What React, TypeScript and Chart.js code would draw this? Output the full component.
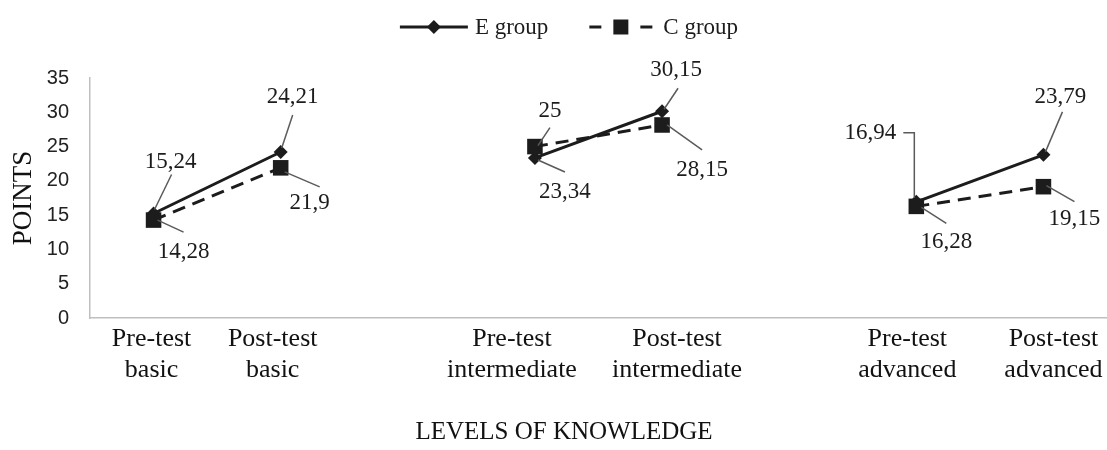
import React, { useEffect, useRef } from 'react';
import { Chart, registerables } from 'chart.js';

Chart.register(...registerables);

// ---- data ----
const categories: string[][] = [
  ['Pre-test', 'basic'],
  ['Post-test', 'basic'],
  [],
  ['Pre-test', 'intermediate'],
  ['Post-test', 'intermediate'],
  [],
  ['Pre-test', 'advanced'],
  ['Post-test', 'advanced'],
];
const eGroup: (number | null)[] = [15.24, 24.21, null, 23.34, 30.15, null, 16.94, 23.79];
const cGroup: (number | null)[] = [14.28, 21.9, null, 25, 28.15, null, 16.28, 19.15];
const seriesNames = ['E group', 'C group'];
const yMin = 0;
const yMax = 35;
const yStep = 5;
const xTitle = 'LEVELS OF KNOWLEDGE';
const yTitle = 'POINTS';

// ---- label placement (pixel offsets; layout only) ----
type LabelPos = { t: [number, number]; path: [number, number][] } | null;
const labelLayout: LabelPos[][] = [
  [
    { t: [17, -52], path: [[18, -39], [1, -4]] },
    { t: [12, -55], path: [[12, -37], [1, -4]] },
    null,
    { t: [30, 34], path: [[30, 14], [3, 2]] },
    { t: [14, -41], path: [[16, -23], [2, -2]] },
    null,
    { t: [-46, -69], path: [[-13, -69], [-2, -69], [-2, -4]] },
    { t: [17, -58], path: [[19, -43], [2, -3]] },
  ],
  [
    { t: [30, 32], path: [[30, 12], [4, 0]] },
    { t: [29, 35], path: [[39, 19], [4, 4]] },
    null,
    { t: [15, -36], path: [[15, -19], [3, -1]] },
    { t: [40, 45], path: [[40, 25], [5, 0]] },
    null,
    { t: [30, 36], path: [[30, 17], [5, 1]] },
    { t: [31, 32], path: [[31, 15], [3, -1]] },
  ],
];
const tickShift = [-2, -8, 0, -23, 15, 0, -9, 10];

const SERIF = '"Liberation Serif", "Times New Roman", serif';
const INK = '#1c1c1c';
const LEADER = '#5a5a5a';
const LEGEND_CENTER_X = 569;
const LEGEND_Y = 27;
const XTITLE_X = 564;
const XTITLE_Y = 432;
const W = 1107;
const H = 450;

const fmt = (v: number) => String(v).replace('.', ',');

function drawDiamond(ctx: CanvasRenderingContext2D, x: number, y: number, r: number) {
  ctx.beginPath();
  ctx.moveTo(x, y - r);
  ctx.lineTo(x + r, y);
  ctx.lineTo(x, y + r);
  ctx.lineTo(x - r, y);
  ctx.closePath();
  ctx.fill();
}

const annotatePlugin = {
  id: 'annotate',
  afterDatasetsDraw(chart: any) {
    const ctx: CanvasRenderingContext2D = chart.ctx;
    ctx.save();
    ctx.font = `23px ${SERIF}`;
    ctx.textAlign = 'center';
    ctx.textBaseline = 'middle';
    chart.data.datasets.forEach((ds: any, di: number) => {
      const meta = chart.getDatasetMeta(di);
      meta.data.forEach((pt: any, i: number) => {
        const v = ds.data[i];
        const L = labelLayout[di] && labelLayout[di][i];
        if (v == null || !L) return;
        ctx.strokeStyle = LEADER;
        ctx.lineWidth = 1.5;
        ctx.setLineDash([]);
        ctx.beginPath();
        L.path.forEach(([dx, dy], k) => {
          if (k === 0) ctx.moveTo(pt.x + dx, pt.y + dy);
          else ctx.lineTo(pt.x + dx, pt.y + dy);
        });
        ctx.stroke();
        ctx.fillStyle = INK;
        ctx.fillText(fmt(v), pt.x + L.t[0], pt.y + L.t[1]);
      });
    });

    // category labels (positioned via the x scale)
    const xs = chart.scales.x;
    const bottom = chart.chartArea.bottom;
    ctx.font = `26px ${SERIF}`;
    ctx.fillStyle = '#111';
    categories.forEach((lines, i) => {
      const cx = xs.getPixelForValue(i) + tickShift[i];
      lines.forEach((ln, k) => {
        ctx.fillText(ln, cx, bottom + 21 + k * 31);
      });
    });

    // x title
    ctx.font = `25px ${SERIF}`;
    ctx.fillText(xTitle, XTITLE_X, XTITLE_Y);

    // legend
    ctx.font = `23px ${SERIF}`;
    ctx.textAlign = 'left';
    const w1 = ctx.measureText(seriesNames[0]).width;
    const w2 = ctx.measureText(seriesNames[1]).width;
    const lineLen1 = 68;
    const lineLen2 = 63;
    const total = lineLen1 + 7 + w1 + 41 + lineLen2 + 11 + w2;
    let x = LEGEND_CENTER_X - total / 2;
    const y = LEGEND_Y;
    ctx.strokeStyle = INK;
    ctx.fillStyle = INK;
    ctx.lineWidth = 3;
    ctx.setLineDash([]);
    ctx.beginPath();
    ctx.moveTo(x, y);
    ctx.lineTo(x + lineLen1, y);
    ctx.stroke();
    drawDiamond(ctx, x + lineLen1 / 2, y, 7);
    x += lineLen1 + 7;
    ctx.fillText(seriesNames[0], x, y + 1);
    x += w1 + 41;
    ctx.setLineDash([12, 39]);
    ctx.beginPath();
    ctx.moveTo(x, y);
    ctx.lineTo(x + lineLen2, y);
    ctx.stroke();
    ctx.setLineDash([]);
    ctx.fillRect(x + lineLen2 / 2 - 7.5, y - 7.5, 15, 15);
    x += lineLen2 + 11;
    ctx.fillText(seriesNames[1], x, y + 1);
    ctx.restore();
  },
};

export default function App() {
  const ref = useRef<HTMLCanvasElement | null>(null);
  useEffect(() => {
    if (!ref.current) return;
    const chart = new Chart(ref.current, {
      type: 'line',
      data: {
        labels: categories.map((c) => c.join(' ')),
        datasets: [
          {
            label: seriesNames[0],
            data: eGroup,
            borderColor: INK,
            backgroundColor: INK,
            borderWidth: 3,
            pointStyle: 'rectRot',
            pointRadius: 7,
            pointBorderWidth: 0,
            pointBackgroundColor: INK,
            spanGaps: false,
            tension: 0,
          },
          {
            label: seriesNames[1],
            data: cGroup,
            borderColor: INK,
            backgroundColor: INK,
            borderWidth: 3,
            borderDash: [13, 8],
            pointStyle: 'rect',
            pointRadius: 11,
            pointBorderWidth: 0,
            pointBackgroundColor: INK,
            spanGaps: false,
            tension: 0,
          },
        ],
      },
      options: {
        animation: false,
        responsive: false,
        layout: {
          autoPadding: false,
          padding: { top: 78, left: 0, bottom: 0, right: 0 },
        },
        plugins: {
          legend: { display: false },
          tooltip: { enabled: false },
        },
        scales: {
          x: {
            offset: true,
            grid: { display: false, drawTicks: false },
            border: { display: true, color: '#bfbfbf', width: 1.5 },
            ticks: { display: false },
            afterFit: (scale: any) => {
              scale.height = 132;
            },
          },
          y: {
            min: yMin,
            max: yMax,
            grid: { display: false, drawTicks: false },
            border: { display: true, color: '#bfbfbf', width: 1.5 },
            ticks: {
              stepSize: yStep,
              padding: 21,
              color: '#222',
              font: { family: '"Liberation Sans", Arial, sans-serif', size: 20 },
            },
            title: {
              display: true,
              text: yTitle,
              color: '#111',
              font: { family: SERIF, size: 27, lineHeight: 1 },
              padding: { top: 10, bottom: 0 },
            },
            afterFit: (scale: any) => {
              scale.width = 90;
            },
          },
        },
      },
      plugins: [annotatePlugin],
    });
    return () => chart.destroy();
  }, []);

  return (
    <div style={{ position: 'fixed', left: 0, top: 0, width: W, height: H, background: '#fff' }}>
      <canvas ref={ref} width={W} height={H} style={{ display: 'block', width: W, height: H }} />
    </div>
  );
}
